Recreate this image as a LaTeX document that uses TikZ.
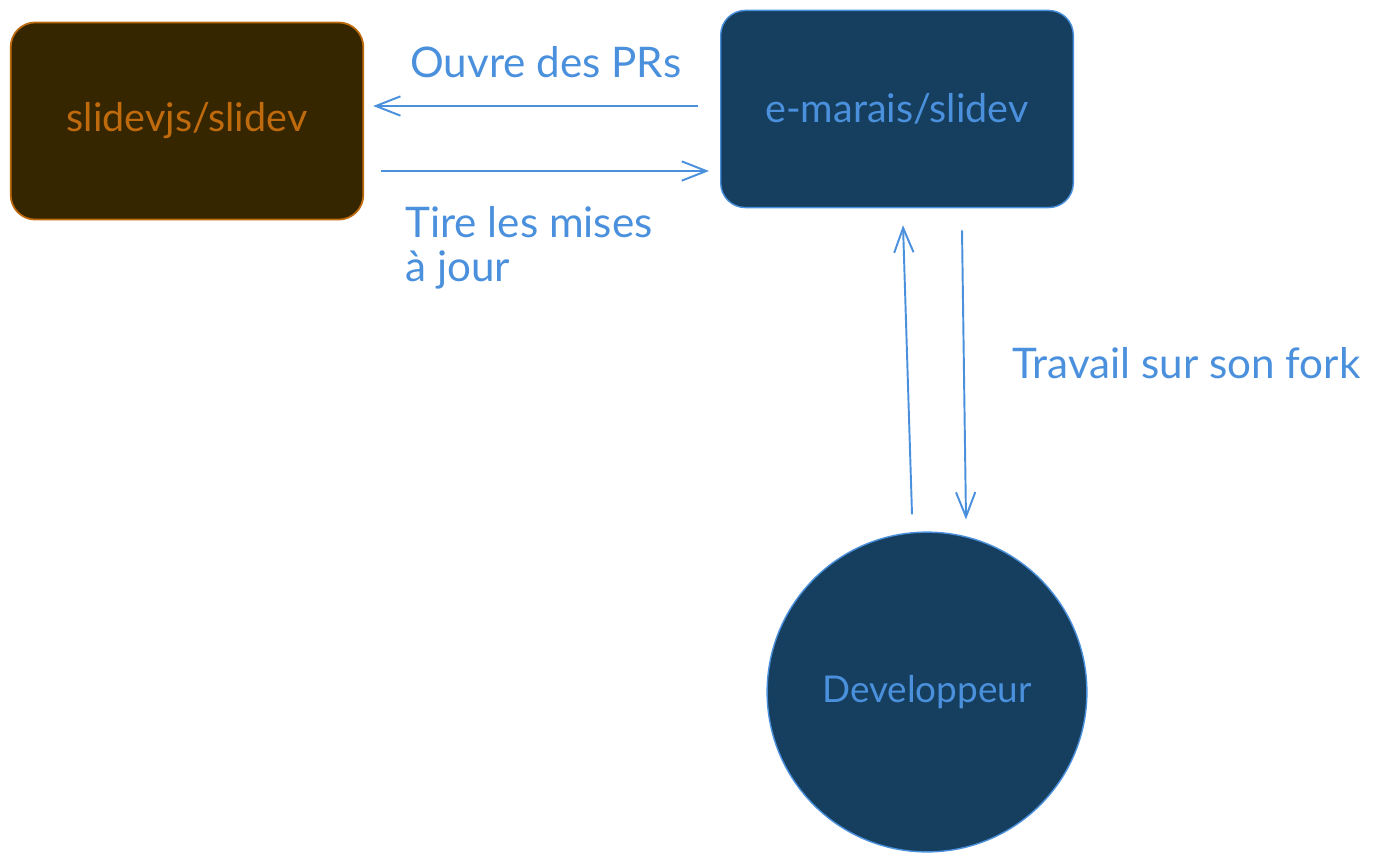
\documentclass[tikz,border=0pt]{standalone}
\usepackage{fontspec}
\setmainfont{Lato}
\usetikzlibrary{arrows.meta,calc,positioning}
\definecolor{brun}{HTML}{352600}
\definecolor{orng}{HTML}{C06A0E}
\definecolor{navy}{HTML}{163F5F}
\definecolor{bleu}{HTML}{4A90DC}

\begin{document}
\begin{tikzpicture}[x=0.02cm,y=-0.02cm]
	\tikzset{repo/.style={rounded corners=14pt, minimum width=200.7pt, minimum height=112.2pt, inner sep=0pt, font=\fontsize{22.5}{25}\selectfont},
		fl/.style={bleu, line width=1.1pt, -{Straight Barb[length=14pt,width=11pt]}},
		lbl/.style={bleu, font=\fontsize{24}{25}\selectfont, inner sep=0pt, align=left}}
	\useasboundingbox (0,0) rectangle (1388,860);
	\node[repo, draw=orng, fill=brun, text=orng, line width=1pt] (up) at (187,121) {slidevjs/slidev};
	\node[repo, draw=bleu, fill=navy, text=bleu, line width=0.8pt] (fork) at (897,109) {e-marais/slidev};
	\node[circle, draw=bleu, fill=navy, text=bleu, line width=0.8pt, minimum size=182pt, inner sep=0pt, font=\fontsize{21}{25}\selectfont] (dev) at (927,692) {Developpeur};
	% upstream <-> fork
	\draw[fl] ($(fork.west)+(-22,-3)$) -- ($(up.east)+(9,-15)$);
	\draw[fl] ($(up.east)+(17,50)$) -- ($(fork.west)+(-11,62)$);
	% fork <-> dev
	\draw[fl] ($(dev.north)+(-15,-17)$) -- ($(fork.south)+(6,17)$);
	\draw[fl] ($(fork.south)+(65,22)$) -- ($(dev.north)+(39,-12)$);
	\node[lbl, anchor=west] (prs) at (410,62) {Ouvre des PRs};
	\node[lbl, anchor=west] (maj) at (405,248) {Tire les mises\\à jour};
	\node[lbl, anchor=west] (trav) at (1012,363) {Travail sur son fork};
\end{tikzpicture}
\end{document}
